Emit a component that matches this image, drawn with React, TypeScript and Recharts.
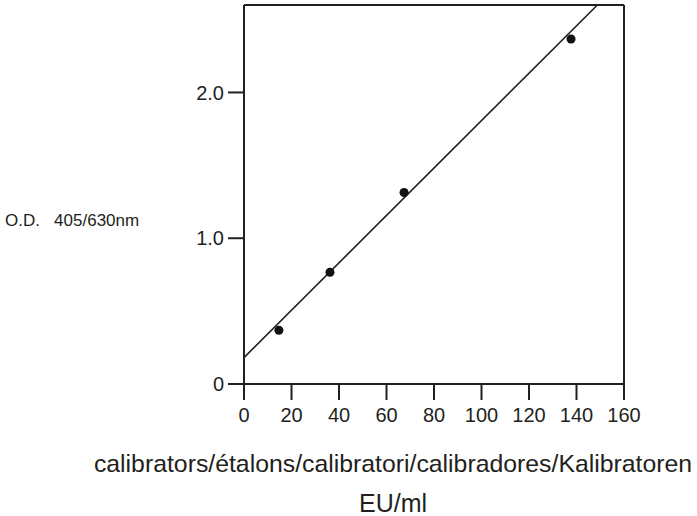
import React from "react";
import { ComposedChart, XAxis, YAxis, Line, Scatter, ReferenceLine } from "recharts";

const calibratorConc = [14.7, 36.2, 67.4, 137.7];
const calibratorOD = [0.369, 0.767, 1.314, 2.367];
const fitX = [0, 148.8];
const fitY = [0.181, 2.6];
const xTicks = [0, 20, 40, 60, 80, 100, 120, 140, 160];
const yTicks = [0, 1, 2];
const yTickLabels = ["0", "1.0", "2.0"];
const xTitle = "calibrators/étalons/calibratori/calibradores/Kalibratoren";
const xUnit = "EU/ml";
const yTitle = "O.D.   405/630nm";

const points = calibratorConc.map((x, i) => ({ x, y: calibratorOD[i] }));
const fitLine = fitX.map((x, i) => ({ x, y: fitY[i] }));

const FONT = '"Liberation Sans", Arial, Helvetica, sans-serif';
const INK = "#231f20";

const XTitle = () => (
  <g>
    <text x={393} y={472} textAnchor="middle" fontSize={24.8} fill={INK} fontFamily={FONT}>
      {xTitle}
    </text>
    <text x={393} y={512} textAnchor="middle" fontSize={25} fill={INK} fontFamily={FONT}>
      {xUnit}
    </text>
  </g>
);

const YTitle = () => (
  <text x={5} y={226} textAnchor="start" fontSize={17} fill={INK} fontFamily={FONT} style={{ whiteSpace: "pre" }}>
    {yTitle}
  </text>
);

export default function App() {
  return (
    <div style={{ position: "absolute", left: 0, top: 0, background: "#fff" }}>
      <ComposedChart
        width={697}
        height={516}
        margin={{ top: 5, right: 73, bottom: 92, left: 184 }}
        style={{ fontFamily: FONT }}
      >
        <XAxis
          type="number"
          dataKey="x"
          domain={[0, 160]}
          ticks={xTicks}
          interval={0}
          height={40}
          tickSize={16}
          tickMargin={8}
          stroke={INK}
          strokeWidth={2}
          tick={{ fill: INK, fontSize: 20, fontFamily: FONT }}
          tickLine={{ stroke: INK, strokeWidth: 2 }}
          label={XTitle}
        />
        <YAxis
          type="number"
          domain={[0, 2.6]}
          ticks={yTicks}
          interval={0}
          width={60}
          tickSize={16}
          tickMargin={4}
          stroke={INK}
          strokeWidth={2}
          tick={{ fill: INK, fontSize: 20, fontFamily: FONT }}
          tickLine={{ stroke: INK, strokeWidth: 2 }}
          tickFormatter={(v: number) => yTickLabels[yTicks.indexOf(v)] ?? String(v)}
          label={YTitle}
        />
        <ReferenceLine y={2.6} stroke={INK} strokeWidth={2} />
        <ReferenceLine x={160} stroke={INK} strokeWidth={2} />
        <Line
          data={fitLine}
          dataKey="y"
          type="linear"
          stroke={INK}
          strokeWidth={1.6}
          dot={false}
          activeDot={false}
          isAnimationActive={false}
        />
        <Scatter data={points} dataKey="y" fill="#111" isAnimationActive={false} />
      </ComposedChart>
    </div>
  );
}
